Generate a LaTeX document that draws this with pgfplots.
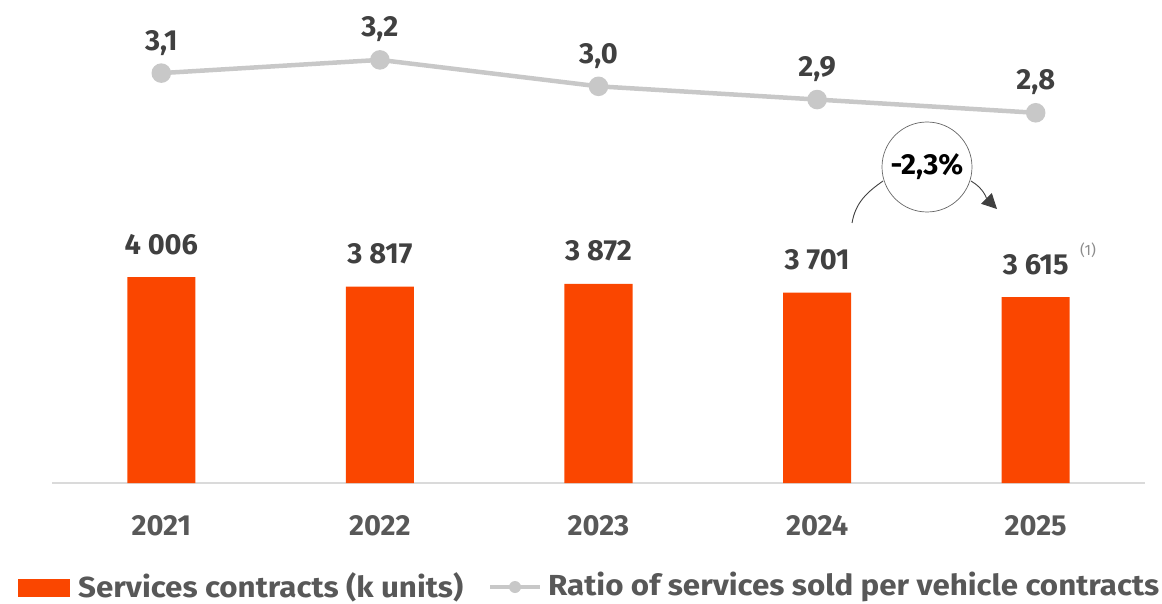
\documentclass[border=0pt]{standalone}
\usepackage{pgfplots}
\pgfplotsset{compat=1.18}
\usepackage{fontspec}
\setmainfont{Fira Sans}
\newfontfamily\legfont{Fira Sans}[FakeStretch=1.08]
\usetikzlibrary{arrows.meta}
\definecolor{barorange}{RGB}{250,70,0}
\definecolor{linegrey}{RGB}{200,200,200}
\definecolor{txtgrey}{RGB}{88,88,88}
\definecolor{valgrey}{RGB}{64,64,64}
\definecolor{axgrey}{RGB}{218,218,218}
\newcommand\lbl{\fontsize{29}{32}\selectfont\bfseries}
\newcommand\leg{\legfont\fontsize{29}{32}\selectfont\bfseries}

\begin{document}
\begin{tikzpicture}[x=1pt,y=1pt]
\useasboundingbox (-52,-120) rectangle (1110,483);
% bars
\begin{axis}[
    at={(0,0)}, anchor=south west,
    scale only axis, width=1093pt, height=483pt,
    xmin=-0.5, xmax=4.5, ymin=0, ymax=9393,
    clip=false,
    axis y line=none, axis x line*=bottom,
    x axis line style={axgrey, line width=2pt, -},
    xtick={0,1,2,3,4},
    xticklabels={2021,2022,2023,2024,2025},
    major tick length=0pt,
    xticklabel style={font=\lbl, text=txtgrey, anchor=base, inner sep=0pt, yshift=-52pt},
]
\addplot[ybar, bar width=68pt, fill=barorange, draw=none,
    nodes near coords, point meta=explicit symbolic,
    nodes near coords style={font=\lbl, text=valgrey, anchor=base, inner sep=0pt, yshift=23pt}]
    coordinates {(0,4006)[4 006] (1,3817)[3 817] (2,3872)[3 872] (3,3701)[3 701] (4,3615)[3 615]};
\end{axis}
% ratio line
\begin{axis}[
    at={(0,0)}, anchor=south west,
    scale only axis, width=1093pt, height=483pt,
    xmin=-0.5, xmax=4.5, ymin=0, ymax=3.653,
    clip=false, hide axis,
]
\addplot[linegrey, line width=4.5pt, mark=*, mark size=7.5pt,
    mark options={fill=linegrey, draw=none},
    nodes near coords, point meta=explicit symbolic,
    nodes near coords style={font=\lbl, text=valgrey, anchor=base, inner sep=0pt, yshift=23pt}]
    coordinates {(0,3.1)[3,1] (1,3.2)[3,2] (2,3.0)[3,0] (3,2.9)[2,9] (4,2.8)[2,8]};
\end{axis}
% -2,3% annotation
\draw[black!60, line width=0.7pt] (875,316) circle (45);
\node[font=\lbl, text=black] at (875,316) {-2,3\%};
\draw[black!75, line width=0.9pt] (800,260) to[out=80,in=215] (831,302);
\draw[black!75, line width=0.9pt, -{Triangle[length=15pt,width=15pt]}] (919,302) to[out=-30,in=135] (945,274);
\node[font=\fontsize{15}{17}\selectfont, text=black!45] at (1036,233) {(1)};
% legend
\fill[barorange] (-34,-96) rectangle (18,-114);
\node[font=\leg, text=txtgrey, anchor=west, inner sep=0pt] at (26,-104) {Services contracts (k units)};
\draw[linegrey, line width=4pt] (438,-104) -- (488,-104);
\fill[linegrey] (463,-104) circle (6);
\node[font=\leg, text=txtgrey, anchor=west, inner sep=0pt] at (496,-104) {Ratio of services sold per vehicle contracts};
\end{tikzpicture}
\end{document}
